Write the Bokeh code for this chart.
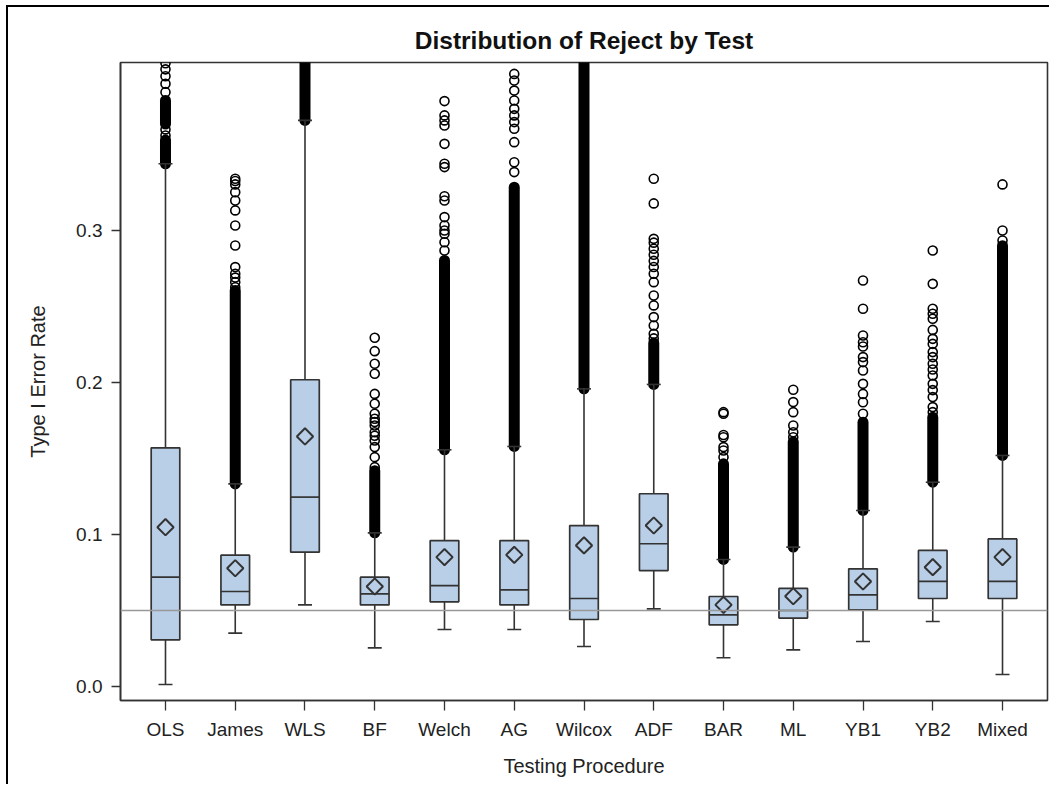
import math
from bokeh.plotting import figure
from bokeh.models import ColumnDataSource, FactorRange, Range1d, FixedTicker, Span, NumeralTickFormatter
from bokeh.transform import dodge
from bokeh.embed import file_html
from bokeh.resources import INLINE

# ---------------- data ----------------
cats = ["OLS", "James", "WLS", "BF", "Welch", "AG", "Wilcox", "ADF", "BAR", "ML", "YB1", "YB2", "Mixed"]

q1 = [0.0307, 0.0537, 0.0884, 0.0537, 0.0557, 0.0537, 0.0441, 0.0763, 0.0406, 0.0450, 0.0505, 0.0579, 0.0579]
median = [0.0719, 0.0625, 0.1246, 0.0610, 0.0664, 0.0636, 0.0579, 0.0939, 0.0471, 0.0500, 0.0603, 0.0691, 0.0691]
q3 = [0.1570, 0.0864, 0.2018, 0.0719, 0.0960, 0.0960, 0.1059, 0.1268, 0.0592, 0.0645, 0.0774, 0.0895, 0.0971]
mean = [0.1048, 0.0778, 0.1645, 0.0658, 0.0851, 0.0866, 0.0928, 0.1059, 0.0537, 0.0594, 0.0691, 0.0785, 0.0851]
whisker_low = [0.0013, 0.0351, 0.0537, 0.0254, 0.0375, 0.0375, 0.0263, 0.0511, 0.0189, 0.0241, 0.0296, 0.0428, 0.0079]
whisker_high = [0.3439, 0.1333, 0.3724, 0.1011, 0.1557, 0.1579, 0.1958, 0.1987, 0.0836, 0.0917, 0.1158, 0.1344, 0.1520]

# ranges of outliers so dense that the circles merge into a solid band (low, high)
dense_outliers = {
    "OLS": [(0.3439, 0.3595), (0.3700, 0.3855)],
    "James": [(0.1333, 0.2605)],
    "WLS": [(0.3724, 0.4130)],
    "BF": [(0.1011, 0.1420)],
    "Welch": [(0.1557, 0.2803)],
    "AG": [(0.1579, 0.3285)],
    "Wilcox": [(0.1958, 0.4130)],
    "ADF": [(0.1987, 0.2260)],
    "BAR": [(0.0836, 0.1465)],
    "ML": [(0.0917, 0.1610)],
    "YB1": [(0.1158, 0.1739)],
    "YB2": [(0.1344, 0.1772)],
    "Mixed": [(0.1520, 0.2900)],
}

# individually visible outliers
outliers = {
    "OLS": [0.3625, 0.3665, 0.3910, 0.3965, 0.4015, 0.4060, 0.4100],
    "James": [0.2627, 0.2660, 0.2690, 0.2715, 0.2759, 0.2901, 0.3033, 0.3132, 0.3197, 0.3252, 0.3303, 0.3325, 0.3340],
    "WLS": [],
    "BF": [0.1443, 0.1509, 0.1575, 0.1618, 0.1650, 0.1673, 0.1717, 0.1740, 0.1761, 0.1794, 0.1860, 0.1925,
           0.2057, 0.2123, 0.2206, 0.2294],
    "Welch": [0.2868, 0.2923, 0.2978, 0.3000, 0.3033, 0.3088, 0.3197, 0.3225, 0.3417, 0.3439, 0.3570,
              0.3691, 0.3724, 0.3757, 0.3851],
    "AG": [0.3384, 0.3449, 0.3581, 0.3669, 0.3713, 0.3757, 0.3800, 0.3855, 0.3920, 0.3987, 0.4030],
    "Wilcox": [],
    "ADF": [0.2290, 0.2320, 0.2375, 0.2430, 0.2507, 0.2572, 0.2660, 0.2715, 0.2760, 0.2800, 0.2840,
            0.2880, 0.2920, 0.2945, 0.3178, 0.3340],
    "BAR": [0.1509, 0.1553, 0.1575, 0.1640, 0.1655, 0.1794, 0.1805],
    "ML": [0.1640, 0.1673, 0.1717, 0.1805, 0.1871, 0.1952],
    "YB1": [0.1794, 0.1870, 0.1925, 0.1991, 0.2079, 0.2134, 0.2167, 0.2237, 0.2265, 0.2309, 0.2485, 0.2671],
    "YB2": [0.1805, 0.1838, 0.1904, 0.1950, 0.1991, 0.2046, 0.2085, 0.2123, 0.2167, 0.2200, 0.2254,
            0.2287, 0.2346, 0.2419, 0.2452, 0.2485, 0.2649, 0.2868],
    "Mixed": [0.2934, 0.3000, 0.3303],
}

reference_level = 0.05
y_ticks = [0.0, 0.1, 0.2, 0.3]

# ---------------- sources ----------------
box_src = ColumnDataSource(dict(cat=cats, q1=q1, median=median, q3=q3, mean=mean,
                                lo=whisker_low, hi=whisker_high))

run_cat, run_lo, run_hi = [], [], []
for c in cats:
    for lo, hi in dense_outliers[c]:
        run_cat.append(c)
        run_lo.append(lo)
        run_hi.append(hi)
run_src = ColumnDataSource(dict(cat=run_cat, lo=run_lo, hi=run_hi))

out_cat, out_y = [], []
for c in cats:
    for v in outliers[c]:
        out_cat.append(c)
        out_y.append(v)
out_src = ColumnDataSource(dict(cat=out_cat, y=out_y))

# ---------------- figure ----------------
FONT = "Liberation Sans"
DARK = "#333333"

p = figure(
    x_range=FactorRange(factors=cats, range_padding=0.29 / 13),
    y_range=Range1d(-0.0092, 0.4105),
    frame_width=927, frame_height=638,
    min_border_left=112, min_border_top=55, min_border_right=2, min_border_bottom=84,
    output_backend="svg", toolbar_location=None,
    title="Distribution of Reject by Test",
)
p.styles = {"border-top": "2px solid #000000", "border-left": "2px solid #000000",
            "margin-left": "6px", "margin-top": "5px"}

p.title.align = "center"
p.title.text_font = FONT
p.title.text_font_size = "24.5px"
p.title.text_font_style = "bold"
p.title.text_color = "#111111"
p.title.standoff = 18

p.xgrid.visible = False
p.ygrid.visible = False
p.outline_line_color = DARK
p.outline_line_width = 1.6

for ax in (p.xaxis[0], p.yaxis[0]):
    ax.axis_line_color = DARK
    ax.axis_line_width = 1.6
    ax.major_tick_line_color = DARK
    ax.major_tick_line_width = 1.3
    ax.major_tick_in = 0
    ax.minor_tick_line_color = None
    ax.major_label_text_font = FONT
    ax.major_label_text_font_size = "19px"
    ax.major_label_text_color = "#222222"
    ax.axis_label_text_font = FONT
    ax.axis_label_text_font_size = "20px"
    ax.axis_label_text_font_style = "normal"
    ax.axis_label_text_color = "#222222"

p.xaxis.axis_label = "Testing Procedure"
p.xaxis.major_tick_out = 10
p.xaxis.major_label_standoff = 8
p.xaxis.axis_label_standoff = 12

p.yaxis.axis_label = "Type I Error Rate"
p.yaxis.major_tick_out = 9
p.yaxis.major_label_standoff = 9
p.yaxis.axis_label_standoff = 24
p.yaxis.ticker = FixedTicker(ticks=y_ticks)
p.yaxis.formatter = NumeralTickFormatter(format="0.0")

# outliers: dense bands and single circles
p.segment(x0="cat", x1="cat", y0="lo", y1="hi", source=run_src,
          line_color="black", line_width=11, line_cap="round")
p.scatter(x="cat", y="y", source=out_src, marker="circle", size=9,
          fill_color=None, line_color="black", line_width=1.6)

# whiskers and caps
p.segment(x0="cat", x1="cat", y0="q3", y1="hi", source=box_src, line_color=DARK, line_width=1.6)
p.segment(x0="cat", x1="cat", y0="q1", y1="lo", source=box_src, line_color=DARK, line_width=1.6)
p.segment(x0=dodge("cat", -0.1, range=p.x_range), x1=dodge("cat", 0.1, range=p.x_range),
          y0="lo", y1="lo", source=box_src, line_color=DARK, line_width=1.6)
p.segment(x0=dodge("cat", -0.1, range=p.x_range), x1=dodge("cat", 0.1, range=p.x_range),
          y0="hi", y1="hi", source=box_src, line_color=DARK, line_width=1.6)

# boxes
p.vbar(x="cat", width=0.41, bottom="q1", top="q3", source=box_src,
       fill_color="#B9CFE7", line_color=DARK, line_width=1.7)
p.segment(x0=dodge("cat", -0.205, range=p.x_range), x1=dodge("cat", 0.205, range=p.x_range),
          y0="median", y1="median", source=box_src, line_color=DARK, line_width=1.7)

# means
p.scatter(x="cat", y="mean", source=box_src, marker="square", angle=math.pi / 4, size=11.5,
          fill_color=None, line_color=DARK, line_width=2)

# reference line
p.add_layout(Span(location=reference_level, dimension="width", line_color="#999999", line_width=1.5))

open("out.html", "w").write(file_html(p, INLINE))
